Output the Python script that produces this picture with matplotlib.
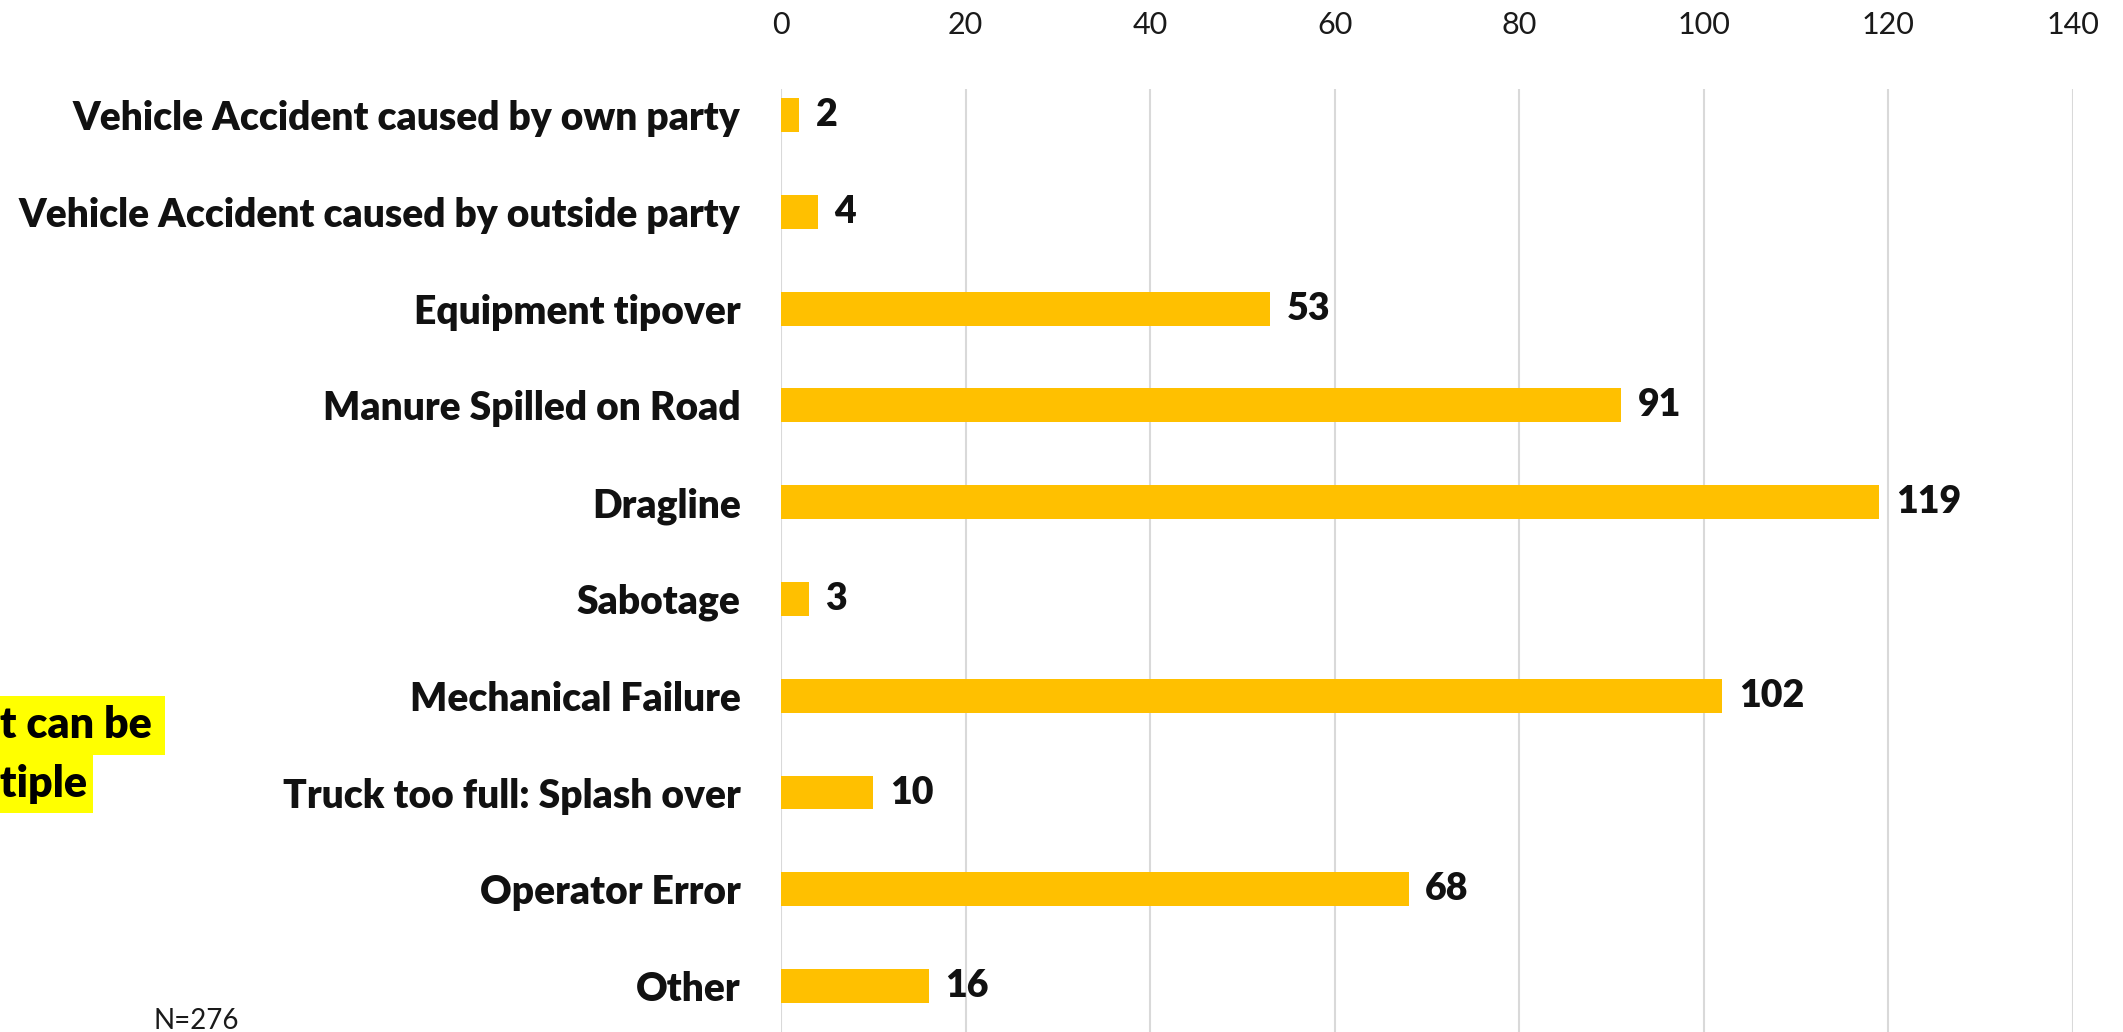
import matplotlib
matplotlib.use('Agg')
import matplotlib.pyplot as plt
from matplotlib.patches import Rectangle

# Data
categories = ['Vehicle Accident caused by own party',
              'Vehicle Accident caused by outside party',
              'Equipment tipover',
              'Manure Spilled on Road',
              'Dragline',
              'Sabotage',
              'Mechanical Failure',
              'Truck too full: Splash over',
              'Operator Error',
              'Other']
counts = [2, 4, 53, 91, 119, 3, 102, 10, 68, 16]
x_ticks = [0, 20, 40, 60, 80, 100, 120, 140]
note_lines = ['t can be ', 'tiple ']
n_label = 'N=276'

W, H = 2123, 1032
plt.rcParams['font.family'] = ['Lato', 'DejaVu Sans']

fig = plt.figure(figsize=(W / 100, H / 100), dpi=100)
ax = fig.add_axes([781 / W, 0, (2073 - 781) / W, (H - 89) / H])

ypos = list(range(len(categories)))
ax.barh(ypos, counts, height=0.35, color='#FFC000', zorder=3)

ax.set_xlim(0, 140)
ax.set_ylim(9.475, -0.27)
ax.set_xticks(x_ticks)
ax.xaxis.tick_top()
ax.tick_params(axis='x', length=0, pad=36, labelsize=22, labelcolor='#1a1a1a')
ax.set_yticks(ypos)
ax.set_yticklabels(categories, fontsize=28.1, fontweight='heavy', color='#111111')
ax.tick_params(axis='y', length=0, pad=29)
ax.grid(axis='x', color='#D9D9D9', linewidth=1.5, zorder=0)
for s in ax.spines.values():
    s.set_visible(False)

# value labels
for i, v in enumerate(counts):
    ax.annotate(str(v), (v, i), xytext=(12, 0), textcoords='offset points',
                va='center', ha='left', fontsize=27, fontweight='heavy', color='#111111')

# highlighted note, cut off at the left edge
boxes = [(0, 696, 165, 59), (0, 755, 93, 58)]
for (bx, by, bw, bh), line in zip(boxes, note_lines):
    fig.patches.append(Rectangle((bx / W, 1 - (by + bh) / H), bw / W, bh / H,
                                 transform=fig.transFigure, facecolor='#FFFF00',
                                 edgecolor='none', zorder=1))
    fig.text(0, 1 - (by + bh / 2) / H, line, ha='left', va='center',
             fontsize=31, fontweight='heavy', color='black', zorder=2)

fig.text(153 / W, 1 - 1021 / H, n_label, ha='left', va='center',
         fontsize=20, color='#1a1a1a')

fig.savefig('out.png', dpi=100)
